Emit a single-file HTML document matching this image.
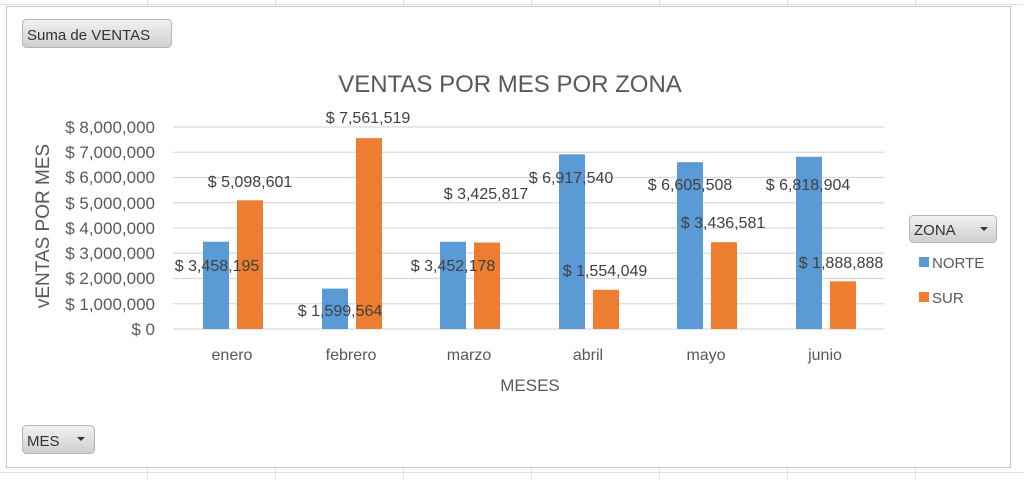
<!DOCTYPE html>
<html><head><meta charset="utf-8"><style>
body{margin:0;width:1024px;height:480px;overflow:hidden;background:#fff;font-family:"Liberation Sans",sans-serif}
</style></head><body>
<svg width="1024" height="480" xmlns="http://www.w3.org/2000/svg" font-family="Liberation Sans, sans-serif">
<g stroke="#e0e0e0" stroke-width="1">
<line x1="147.5" y1="0" x2="147.5" y2="480"/><line x1="275.5" y1="0" x2="275.5" y2="480"/><line x1="403.5" y1="0" x2="403.5" y2="480"/><line x1="531.5" y1="0" x2="531.5" y2="480"/><line x1="659.5" y1="0" x2="659.5" y2="480"/><line x1="787.5" y1="0" x2="787.5" y2="480"/><line x1="915.5" y1="0" x2="915.5" y2="480"/>
<line x1="0" y1="4.5" x2="1024" y2="4.5"/><line x1="0" y1="472.5" x2="1024" y2="472.5"/>
</g>
<rect x="6.5" y="6.5" width="1004" height="461" fill="#fff" stroke="#c8c8c8"/>
<defs><linearGradient id="g" x1="0" y1="0" x2="0" y2="1"><stop offset="0" stop-color="#f2f2f2"/><stop offset="1" stop-color="#cfcfcf"/></linearGradient></defs>
<rect x="22.5" y="19.5" width="149" height="28" rx="4" fill="url(#g)" stroke="#b5b5b5"/>
<text x="27" y="40" font-size="15" fill="#333">Suma de VENTAS</text>
<rect x="22.5" y="425.5" width="72" height="28" rx="4" fill="url(#g)" stroke="#b5b5b5"/>
<text x="27" y="446" font-size="15" fill="#333">MES</text>
<path d="M77 437h8l-4 4z" fill="#333"/>
<rect x="909.5" y="215.5" width="87" height="27" rx="4" fill="url(#g)" stroke="#b5b5b5"/>
<text x="914" y="235" font-size="15" fill="#333">ZONA</text>
<path d="M980 227h8l-4 4z" fill="#333"/>
<rect x="919" y="257" width="10" height="10" fill="#5b9bd5"/>
<text x="932" y="268" font-size="15" fill="#595959">NORTE</text>
<rect x="919" y="292" width="10" height="10" fill="#ed7d31"/>
<text x="932" y="303" font-size="15" fill="#595959">SUR</text>
<text x="510" y="92" font-size="24" fill="#595959" text-anchor="middle">VENTAS POR MES POR ZONA</text>
<g stroke="#d9d9d9" stroke-width="1.3">
<line x1="173" y1="127" x2="884" y2="127"/><line x1="173" y1="152.25" x2="884" y2="152.25"/><line x1="173" y1="177.5" x2="884" y2="177.5"/><line x1="173" y1="202.75" x2="884" y2="202.75"/><line x1="173" y1="228" x2="884" y2="228"/><line x1="173" y1="253.25" x2="884" y2="253.25"/><line x1="173" y1="278.5" x2="884" y2="278.5"/><line x1="173" y1="303.75" x2="884" y2="303.75"/><line x1="173" y1="329" x2="884" y2="329"/>
</g>
<g font-size="17" fill="#595959" text-anchor="end">
<text x="155" y="133">$ 8,000,000</text><text x="155" y="158">$ 7,000,000</text><text x="155" y="183">$ 6,000,000</text><text x="155" y="209">$ 5,000,000</text><text x="155" y="234">$ 4,000,000</text><text x="155" y="259">$ 3,000,000</text><text x="155" y="284">$ 2,000,000</text><text x="155" y="310">$ 1,000,000</text><text x="155" y="335">$ 0</text>
</g>
<text transform="translate(49 226) rotate(-90)" font-size="19" fill="#595959" text-anchor="middle">vENTAS POR MES</text>
<g fill="#5b9bd5">
<rect x="203" y="241.7" width="26" height="87.3"/><rect x="322" y="288.6" width="26" height="40.4"/><rect x="440" y="241.8" width="26" height="87.2"/><rect x="559" y="154.3" width="26" height="174.7"/><rect x="677" y="162.2" width="26" height="166.8"/><rect x="796" y="156.8" width="26" height="172.2"/>
</g>
<g fill="#ed7d31">
<rect x="237" y="200.3" width="26" height="128.7"/><rect x="356" y="138.1" width="26" height="190.9"/><rect x="474" y="242.5" width="26" height="86.5"/><rect x="593" y="289.8" width="26" height="39.2"/><rect x="711" y="242.2" width="26" height="86.8"/><rect x="830" y="281.3" width="26" height="47.7"/>
</g>
<g font-size="16" fill="#404040" text-anchor="middle">
<text x="217" y="271">$ 3,458,195</text><text x="250" y="187">$ 5,098,601</text>
<text x="340" y="316">$ 1,599,564</text><text x="368" y="123">$ 7,561,519</text>
<text x="453" y="271">$ 3,452,178</text><text x="486" y="199">$ 3,425,817</text>
<text x="571" y="183">$ 6,917,540</text><text x="605" y="276">$ 1,554,049</text>
<text x="690" y="190">$ 6,605,508</text><text x="723" y="228">$ 3,436,581</text>
<text x="808" y="190">$ 6,818,904</text><text x="841" y="268">$ 1,888,888</text>
</g>
<g font-size="16" fill="#595959" text-anchor="middle">
<text x="232" y="360">enero</text><text x="351" y="360">febrero</text><text x="469" y="360">marzo</text><text x="588" y="360">abril</text><text x="706" y="360">mayo</text><text x="825" y="360">junio</text>
</g>
<text x="530" y="391" font-size="17" fill="#595959" text-anchor="middle">MESES</text>
</svg>
</body></html>
